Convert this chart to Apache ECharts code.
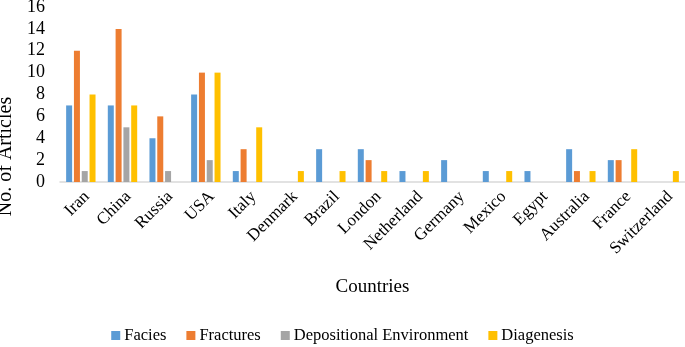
<!DOCTYPE html>
<html>
<head>
<meta charset="utf-8">
<script src="https://cdn.jsdelivr.net/npm/echarts@6/dist/echarts.min.js"></script>
<style>html,body{margin:0;padding:0;background:#fff}#chart{width:685px;height:347px}</style>
</head>
<body>
<div id="chart"></div>
<script>
var countries = ['Iran', 'China', 'Russia', 'USA', 'Italy', 'Denmark', 'Brazil', 'London', 'Netherland', 'Germany', 'Mexico', 'Egypt', 'Australia', 'France', 'Switzerland'];
var facies = [7, 7, 4, 8, 1, 0, 3, 3, 1, 2, 1, 1, 3, 2, 0];
var fractures = [12, 14, 6, 10, 3, 0, 0, 2, 0, 0, 0, 0, 1, 2, 0];
var depositional = [1, 5, 1, 2, 0, 0, 0, 0, 0, 0, 0, 0, 0, 0, 0];
var diagenesis = [8, 7, 0, 10, 5, 1, 1, 1, 1, 0, 1, 0, 1, 3, 1];
var yTicks = [0, 2, 4, 6, 8, 10, 12, 14, 16];

var font = 'Liberation Serif';
var myChart = echarts.init(document.getElementById('chart'));

function bar(name, values, color) {
    return {
        name: name,
        type: 'bar',
        data: values,
        barWidth: 6,
        barGap: '30%',
        itemStyle: {color: color}
    };
}

var option = {
    animation: false,
    textStyle: {fontFamily: font, color: '#000'},
    grid: {left: 60, right: 0, top: 7, bottom: 165, containLabel: false, outerBoundsMode: 'none'},
    legend: {
        top: 322,
        left: 'center',
        itemWidth: 9,
        itemHeight: 9,
        itemGap: 20,
        icon: 'rect',
        textStyle: {fontFamily: font, fontSize: 16.5, color: '#000', padding: [0, 0, 0, -1]},
        data: ['Facies', 'Fractures', 'Depositional Environment', 'Diagenesis']
    },
    xAxis: {
        type: 'category',
        data: countries,
        name: 'Countries',
        nameLocation: 'middle',
        nameGap: 96,
        nameTextStyle: {fontFamily: font, fontSize: 19, color: '#000'},
        axisLine: {lineStyle: {color: '#d9d9d9', width: 1.5}},
        axisTick: {show: false},
        axisLabel: {rotate: 45, fontFamily: font, fontSize: 17, color: '#000', interval: 0, margin: 6, verticalAlign: 'top'}
    },
    yAxis: {
        type: 'value',
        min: yTicks[0],
        max: yTicks[yTicks.length - 1],
        interval: 2,
        name: 'No. of Articles',
        nameLocation: 'middle',
        nameGap: 40,
        // Excel placed the title lower than the plot centre
        nameTextStyle: {fontFamily: font, fontSize: 20, color: '#000', padding: [0, 124, 0, 0]},
        axisLine: {show: false},
        axisTick: {show: false},
        splitLine: {show: false},
        axisLabel: {fontFamily: font, fontSize: 18, color: '#000', margin: 15}
    },
    series: [
        bar('Facies', facies, '#5B9BD5'),
        bar('Fractures', fractures, '#ED7D31'),
        bar('Depositional Environment', depositional, '#A5A5A5'),
        bar('Diagenesis', diagenesis, '#FFC000')
    ]
};
myChart.setOption(option);
</script>
</body>
</html>
